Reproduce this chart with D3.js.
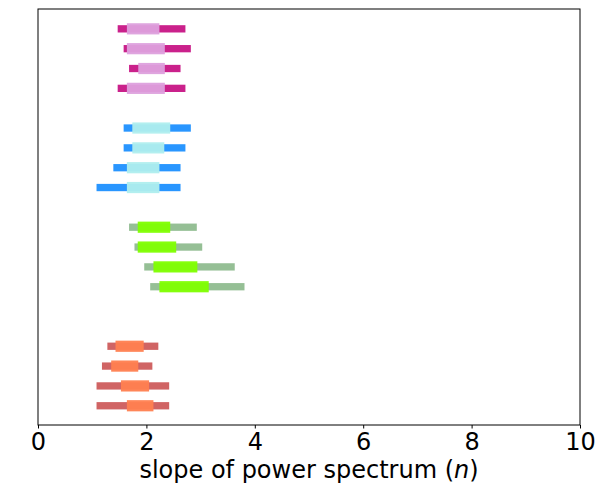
<!DOCTYPE html>
<html>
<head>
<meta charset="utf-8">
<script src="https://cdn.jsdelivr.net/npm/d3@7"></script>
<style>
body { margin: 0; background: #fff; }
svg { display: block; }
text { font-family: "DejaVu Sans", sans-serif; }
</style>
</head>
<body>
<div id="chart"></div>
<script>
// row positions (y data units)
const rowY = [20, 19, 18, 17, 15, 14, 13, 12, 10, 9, 8, 7, 4, 3, 2, 1];
// outer range (low, high)
const outerLow  = [1.47, 1.58, 1.68, 1.47, 1.58, 1.58, 1.39, 1.08, 1.68, 1.78, 1.96, 2.07, 1.28, 1.18, 1.08, 1.08];
const outerHigh = [2.72, 2.82, 2.63, 2.72, 2.82, 2.72, 2.63, 2.63, 2.93, 3.03, 3.63, 3.81, 2.22, 2.11, 2.42, 2.42];
// inner range (low, high)
const innerLow  = [1.64, 1.64, 1.85, 1.64, 1.74, 1.74, 1.64, 1.64, 1.84, 1.84, 2.13, 2.24, 1.43, 1.35, 1.53, 1.64];
const innerHigh = [2.24, 2.34, 2.34, 2.34, 2.44, 2.33, 2.24, 2.24, 2.44, 2.55, 2.94, 3.15, 1.95, 1.85, 2.05, 2.13];
// group of each row
const rowGroup = [0,0,0,0, 1,1,1,1, 2,2,2,2, 3,3,3,3];
const outerColors = ["#C71585", "#1E90FF", "#8FBC8F", "#CD5C5C"];
const innerColors = ["#DDA0DD", "#AFEEEE", "#7FFF00", "#FF7F50"];
const xTicks = [0, 2, 4, 6, 8, 10];
const xLabel = "slope of power spectrum (";
const xLabelVar = "n";

const W = 601, H = 486;
const m = { left: 38, right: 21, top: 9, bottom: 61 };
const svg = d3.select("#chart").append("svg").attr("width", W).attr("height", H);

const x = d3.scaleLinear().domain([0, 10]).range([m.left, W - m.right]);
const y = d3.scaleLinear().domain([0.03, 21.0]).range([H - m.bottom, m.top]);

const rows = rowY.map((v, i) => ({
  y: v, ol: outerLow[i], oh: outerHigh[i], il: innerLow[i], ih: innerHigh[i], g: rowGroup[i]
}));

const outerH = 7.3, innerH = 11.2;
svg.append("g").selectAll("rect").data(rows).join("rect")
  .attr("x", d => x(d.ol)).attr("width", d => x(d.oh) - x(d.ol))
  .attr("y", d => y(d.y) - outerH / 2).attr("height", outerH)
  .attr("fill", d => outerColors[d.g]).attr("opacity", 0.95);
svg.append("g").selectAll("rect").data(rows).join("rect")
  .attr("x", d => x(d.il)).attr("width", d => x(d.ih) - x(d.il))
  .attr("y", d => y(d.y) - innerH / 2).attr("height", innerH)
  .attr("fill", d => innerColors[d.g]).attr("opacity", 0.95);

// frame
svg.append("rect")
  .attr("x", m.left).attr("y", m.top)
  .attr("width", W - m.left - m.right).attr("height", H - m.top - m.bottom)
  .attr("fill", "none").attr("stroke", "#000").attr("stroke-width", 1);

const xAxis = svg.append("g")
  .attr("transform", `translate(0,${H - m.bottom})`)
  .call(d3.axisBottom(x).tickValues(xTicks).tickSize(3.5).tickPadding(4).tickFormat(d3.format("d")));
xAxis.select(".domain").remove();
xAxis.selectAll("line").attr("stroke", "#000");
xAxis.selectAll("text").attr("font-size", 24).attr("fill", "#000")
  .attr("font-family", "DejaVu Sans, sans-serif");

const lbl = svg.append("text")
  .attr("x", (m.left + W - m.right) / 2).attr("y", 478)
  .attr("text-anchor", "middle").attr("font-size", 24).attr("fill", "#000");
lbl.append("tspan").text(xLabel);
lbl.append("tspan").attr("font-style", "italic").text(xLabelVar);
lbl.append("tspan").text(")");
</script>
</body>
</html>
